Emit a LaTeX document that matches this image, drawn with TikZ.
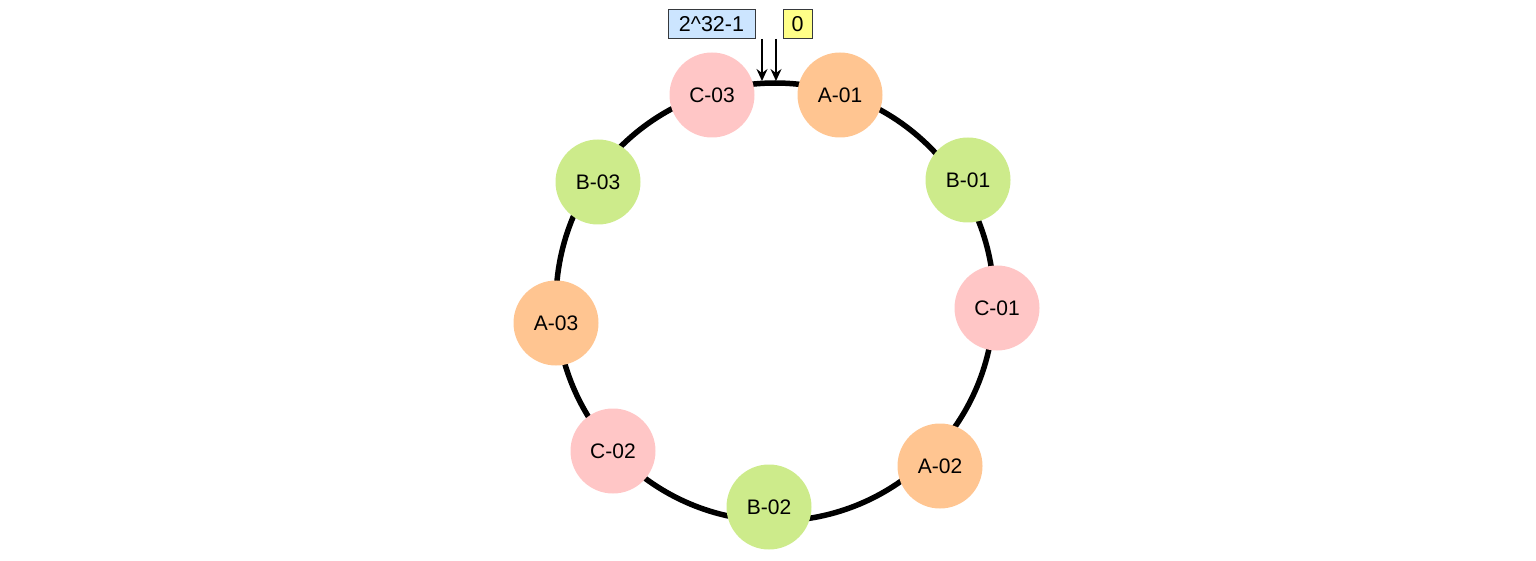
\documentclass[tikz,border=0pt]{standalone}
\usepackage{fontspec}
\setmainfont{Liberation Sans}
\usetikzlibrary{arrows.meta}
\definecolor{orangefill}{HTML}{FFC591}
\definecolor{pinkfill}{HTML}{FFC6C6}
\definecolor{greenfill}{HTML}{CDEB8B}
\definecolor{bluefill}{HTML}{CCE5FF}
\definecolor{yellowfill}{HTML}{FFFF88}
\definecolor{boxstroke}{HTML}{36393D}
\tikzset{
  vnode/.style={circle, draw=none, minimum size=85pt, inner sep=0pt, font=\fontsize{21}{25}\selectfont},
  anode/.style={vnode, fill=orangefill},
  bnode/.style={vnode, fill=greenfill},
  cnode/.style={vnode, fill=pinkfill},
  labelbox/.style={draw=boxstroke, line width=1pt, inner sep=0pt, minimum height=29pt, font=\fontsize{21.5}{25}\selectfont},
  pointer/.style={line width=1.6pt, -{Stealth[length=12pt, width=11pt, inset=4pt]}},
  ringline/.style={line width=5.5pt}
}
\begin{document}
\begin{tikzpicture}[x=1pt, y=-1pt]
\useasboundingbox (0,0) rectangle (1536,561);
% ring
\node[circle, draw, ringline, minimum size=438pt, inner sep=0pt] (ring) at (775,302) {};
% nodes
\node[anode] (a01) at (840,95) {A-01};
\node[cnode] (c03) at (712,95) {C-03};
\node[bnode] (b01) at (968,180) {B-01};
\node[bnode] (b03) at (598,182) {B-03};
\node[cnode] (c01) at (997,308) {C-01};
\node[anode] (a03) at (556,323) {A-03};
\node[cnode] (c02) at (613,451) {C-02};
\node[anode] (a02) at (940,466) {A-02};
\node[bnode] (b02) at (769,507) {B-02};
% labels
\node[labelbox, fill=bluefill, minimum width=87pt] (max) at (711.5,24.5) {2\^{}32-1};
\node[labelbox, fill=yellowfill, minimum width=29pt] (zero) at (797.5,24.5) {0};
% pointers
\coordinate (p1s) at (762,39);
\coordinate (p1e) at (762,81);
\coordinate (p2s) at (776,39);
\coordinate (p2e) at (776,81);
\draw[pointer] (p1s) -- (p1e);
\draw[pointer] (p2s) -- (p2e);
\end{tikzpicture}
\end{document}
